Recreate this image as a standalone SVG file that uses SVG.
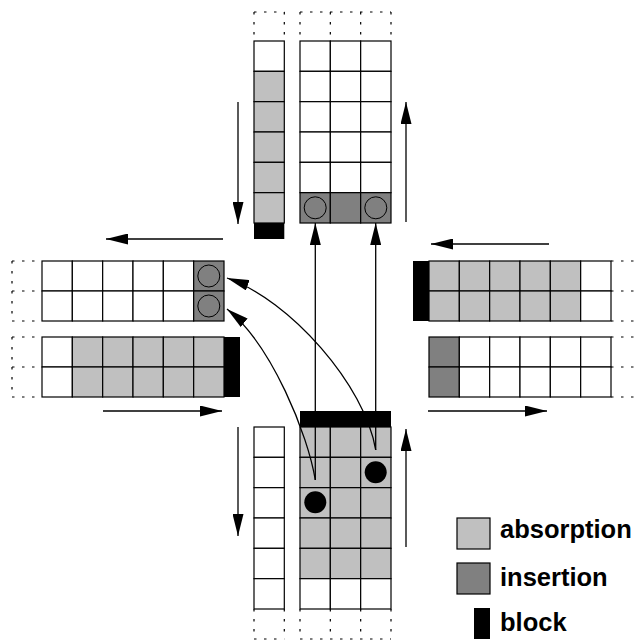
<svg xmlns="http://www.w3.org/2000/svg" width="636" height="641" viewBox="0 0 636 641">
  <style>
    .cell { stroke: #000; stroke-width: 1.2; }
    .w { fill: #fff; }
    .a { fill: #c0c0c0; }
    .i { fill: #808080; }
    .b { fill: #000; stroke: none; }
    .dot { stroke: #000; stroke-width: 1.2; stroke-dasharray: 2.5 7.5; fill: none; }
    .ring { fill: #808080; stroke: #000; stroke-width: 1; }
    .car { fill: #000; }
    .flow { stroke: #000; stroke-width: 1.3; fill: none; marker-end: url(#head); }
    .lbl { font-family: "Liberation Sans", Arial, sans-serif; font-weight: bold; font-size: 25.5px; fill: #000; }
  </style>
  <defs>
    <marker id="head" markerUnits="userSpaceOnUse" markerWidth="22" markerHeight="11" refX="22" refY="5.5" orient="auto">
      <path d="M0,0 L22,5.5 L0,11 z" fill="#000"/>
    </marker>
  </defs>

  <rect width="636" height="641" fill="#fff"/>

  <!-- north: southbound single lane -->
  <g id="north-lane-down">
    <line class="dot" x1="254" y1="12" x2="284.3" y2="12"/>
    <line class="dot" x1="254" y1="12" x2="254" y2="41"/>
    <line class="dot" x1="284.3" y1="12" x2="284.3" y2="41"/>
    <rect class="cell w" x="254" y="41" width="30.3" height="30.33"/>
    <rect class="cell a" x="254" y="71.33" width="30.3" height="30.33"/>
    <rect class="cell a" x="254" y="101.67" width="30.3" height="30.33"/>
    <rect class="cell a" x="254" y="132" width="30.3" height="30.33"/>
    <rect class="cell a" x="254" y="162.33" width="30.3" height="30.33"/>
    <rect class="cell a" x="254" y="192.67" width="30.3" height="30.33"/>
    <rect class="b" x="254" y="223" width="30.3" height="16"/>
  </g>

  <!-- north: northbound three lanes -->
  <g id="north-lanes-up">
    <line class="dot" x1="300" y1="12" x2="391" y2="12"/>
    <line class="dot" x1="300" y1="12" x2="300" y2="41"/>
    <line class="dot" x1="330.33" y1="12" x2="330.33" y2="41"/>
    <line class="dot" x1="360.67" y1="12" x2="360.67" y2="41"/>
    <line class="dot" x1="391" y1="12" x2="391" y2="41"/>
    <g class="cell w">
      <rect x="300" y="41" width="30.33" height="30.33"/><rect x="330.33" y="41" width="30.33" height="30.33"/><rect x="360.67" y="41" width="30.33" height="30.33"/>
      <rect x="300" y="71.33" width="30.33" height="30.33"/><rect x="330.33" y="71.33" width="30.33" height="30.33"/><rect x="360.67" y="71.33" width="30.33" height="30.33"/>
      <rect x="300" y="101.67" width="30.33" height="30.33"/><rect x="330.33" y="101.67" width="30.33" height="30.33"/><rect x="360.67" y="101.67" width="30.33" height="30.33"/>
      <rect x="300" y="132" width="30.33" height="30.33"/><rect x="330.33" y="132" width="30.33" height="30.33"/><rect x="360.67" y="132" width="30.33" height="30.33"/>
      <rect x="300" y="162.33" width="30.33" height="30.33"/><rect x="330.33" y="162.33" width="30.33" height="30.33"/><rect x="360.67" y="162.33" width="30.33" height="30.33"/>
    </g>
    <g class="cell i">
      <rect x="300" y="192.67" width="30.33" height="30.33"/><rect x="330.33" y="192.67" width="30.33" height="30.33"/><rect x="360.67" y="192.67" width="30.33" height="30.33"/>
    </g>
    <circle class="ring" cx="315.2" cy="207.8" r="11"/>
    <circle class="ring" cx="375.8" cy="207.8" r="11"/>
  </g>

  <!-- west: westbound two lanes -->
  <g id="west-lanes-out">
    <line class="dot" x1="12" y1="261" x2="42" y2="261"/>
    <line class="dot" x1="12" y1="291" x2="42" y2="291"/>
    <line class="dot" x1="12" y1="321" x2="42" y2="321"/>
    <line class="dot" x1="12" y1="261" x2="12" y2="321"/>
    <g class="cell w">
      <rect x="42" y="261" width="30.33" height="30"/><rect x="72.33" y="261" width="30.33" height="30"/><rect x="102.67" y="261" width="30.33" height="30"/><rect x="133" y="261" width="30.33" height="30"/><rect x="163.33" y="261" width="30.33" height="30"/>
      <rect x="42" y="291" width="30.33" height="30"/><rect x="72.33" y="291" width="30.33" height="30"/><rect x="102.67" y="291" width="30.33" height="30"/><rect x="133" y="291" width="30.33" height="30"/><rect x="163.33" y="291" width="30.33" height="30"/>
    </g>
    <g class="cell i">
      <rect x="193.67" y="261" width="30.33" height="30"/><rect x="193.67" y="291" width="30.33" height="30"/>
    </g>
    <circle class="ring" cx="208.8" cy="276" r="11"/>
    <circle class="ring" cx="208.8" cy="306" r="11"/>
  </g>

  <!-- west: eastbound two lanes -->
  <g id="west-lanes-in">
    <line class="dot" x1="12" y1="337" x2="42" y2="337"/>
    <line class="dot" x1="12" y1="367" x2="42" y2="367"/>
    <line class="dot" x1="12" y1="397" x2="42" y2="397"/>
    <line class="dot" x1="12" y1="337" x2="12" y2="397"/>
    <g class="cell w">
      <rect x="42" y="337" width="30.33" height="30"/><rect x="42" y="367" width="30.33" height="30"/>
    </g>
    <g class="cell a">
      <rect x="72.33" y="337" width="30.33" height="30"/><rect x="102.67" y="337" width="30.33" height="30"/><rect x="133" y="337" width="30.33" height="30"/><rect x="163.33" y="337" width="30.33" height="30"/><rect x="193.67" y="337" width="30.33" height="30"/>
      <rect x="72.33" y="367" width="30.33" height="30"/><rect x="102.67" y="367" width="30.33" height="30"/><rect x="133" y="367" width="30.33" height="30"/><rect x="163.33" y="367" width="30.33" height="30"/><rect x="193.67" y="367" width="30.33" height="30"/>
    </g>
    <rect class="b" x="224" y="337" width="16" height="60"/>
  </g>

  <!-- east: westbound two lanes -->
  <g id="east-lanes-in">
    <line class="dot" x1="611" y1="261" x2="636" y2="261"/>
    <line class="dot" x1="611" y1="291" x2="636" y2="291"/>
    <line class="dot" x1="611" y1="321" x2="636" y2="321"/>
    <rect class="b" x="413" y="261" width="16" height="60"/>
    <g class="cell a">
      <rect x="429" y="261" width="30.33" height="30"/><rect x="459.33" y="261" width="30.33" height="30"/><rect x="489.67" y="261" width="30.33" height="30"/><rect x="520" y="261" width="30.33" height="30"/><rect x="550.33" y="261" width="30.33" height="30"/>
      <rect x="429" y="291" width="30.33" height="30"/><rect x="459.33" y="291" width="30.33" height="30"/><rect x="489.67" y="291" width="30.33" height="30"/><rect x="520" y="291" width="30.33" height="30"/><rect x="550.33" y="291" width="30.33" height="30"/>
    </g>
    <g class="cell w">
      <rect x="580.67" y="261" width="30.33" height="30"/><rect x="580.67" y="291" width="30.33" height="30"/>
    </g>
  </g>

  <!-- east: eastbound two lanes -->
  <g id="east-lanes-out">
    <line class="dot" x1="611" y1="337" x2="636" y2="337"/>
    <line class="dot" x1="611" y1="367" x2="636" y2="367"/>
    <line class="dot" x1="611" y1="397" x2="636" y2="397"/>
    <g class="cell i">
      <rect x="429" y="337" width="30.33" height="30"/><rect x="429" y="367" width="30.33" height="30"/>
    </g>
    <g class="cell w">
      <rect x="459.33" y="337" width="30.33" height="30"/><rect x="489.67" y="337" width="30.33" height="30"/><rect x="520" y="337" width="30.33" height="30"/><rect x="550.33" y="337" width="30.33" height="30"/><rect x="580.67" y="337" width="30.33" height="30"/>
      <rect x="459.33" y="367" width="30.33" height="30"/><rect x="489.67" y="367" width="30.33" height="30"/><rect x="520" y="367" width="30.33" height="30"/><rect x="550.33" y="367" width="30.33" height="30"/><rect x="580.67" y="367" width="30.33" height="30"/>
    </g>
  </g>

  <!-- south: southbound single lane -->
  <g id="south-lane-out">
    <g class="cell w">
      <rect x="254" y="427" width="30.3" height="30.33"/>
      <rect x="254" y="457.33" width="30.3" height="30.33"/>
      <rect x="254" y="487.67" width="30.3" height="30.33"/>
      <rect x="254" y="518" width="30.3" height="30.33"/>
      <rect x="254" y="548.33" width="30.3" height="30.33"/>
      <rect x="254" y="578.67" width="30.3" height="30.33"/>
    </g>
    <line class="dot" x1="254" y1="609" x2="254" y2="639"/>
    <line class="dot" x1="284.3" y1="609" x2="284.3" y2="639"/>
    <line class="dot" x1="254" y1="639" x2="284.3" y2="639"/>
  </g>

  <!-- south: northbound three lanes -->
  <g id="south-lanes-in">
    <rect class="b" x="300" y="411" width="91" height="16"/>
    <g class="cell a">
      <rect x="300" y="427" width="30.33" height="30.33"/><rect x="330.33" y="427" width="30.33" height="30.33"/><rect x="360.67" y="427" width="30.33" height="30.33"/>
      <rect x="300" y="457.33" width="30.33" height="30.33"/><rect x="330.33" y="457.33" width="30.33" height="30.33"/><rect x="360.67" y="457.33" width="30.33" height="30.33"/>
      <rect x="300" y="487.67" width="30.33" height="30.33"/><rect x="330.33" y="487.67" width="30.33" height="30.33"/><rect x="360.67" y="487.67" width="30.33" height="30.33"/>
      <rect x="300" y="518" width="30.33" height="30.33"/><rect x="330.33" y="518" width="30.33" height="30.33"/><rect x="360.67" y="518" width="30.33" height="30.33"/>
      <rect x="300" y="548.33" width="30.33" height="30.33"/><rect x="330.33" y="548.33" width="30.33" height="30.33"/><rect x="360.67" y="548.33" width="30.33" height="30.33"/>
    </g>
    <g class="cell w">
      <rect x="300" y="578.67" width="30.33" height="30.33"/><rect x="330.33" y="578.67" width="30.33" height="30.33"/><rect x="360.67" y="578.67" width="30.33" height="30.33"/>
    </g>
    <circle class="car" cx="315.3" cy="502.3" r="11"/>
    <circle class="car" cx="375.7" cy="472.3" r="11"/>
    <line class="dot" x1="300" y1="609" x2="300" y2="639"/>
    <line class="dot" x1="330.33" y1="609" x2="330.33" y2="639"/>
    <line class="dot" x1="360.67" y1="609" x2="360.67" y2="639"/>
    <line class="dot" x1="391" y1="609" x2="391" y2="639"/>
    <line class="dot" x1="300" y1="639" x2="391" y2="639"/>
  </g>

  <!-- traffic direction arrows and vehicle moves -->
  <g id="connectors">
    <line class="flow" x1="238" y1="102" x2="238" y2="224"/>
    <line class="flow" x1="406" y1="222" x2="406" y2="102"/>
    <line class="flow" x1="223" y1="239" x2="106" y2="239"/>
    <line class="flow" x1="549" y1="244" x2="431" y2="244"/>
    <line class="flow" x1="103" y1="411" x2="222" y2="411"/>
    <line class="flow" x1="428" y1="411" x2="547" y2="411"/>
    <line class="flow" x1="238" y1="427" x2="238" y2="536"/>
    <line class="flow" x1="406" y1="547" x2="406" y2="429"/>
    <line class="flow" x1="315.3" y1="480" x2="315.3" y2="223"/>
    <line class="flow" x1="375.7" y1="450" x2="375.7" y2="223"/>
    <path class="flow" d="M375.7,450 C365,385 290,300 227,278"/>
    <path class="flow" d="M315.3,480 C308,435 272,345 227,309"/>
  </g>

  <!-- legend -->
  <g id="legend-absorption">
    <rect class="cell a" x="457" y="518" width="33" height="31"/>
    <text class="lbl" x="500" y="538">absorption</text>
  </g>
  <g id="legend-insertion">
    <rect class="cell i" x="457" y="563" width="33" height="31"/>
    <text class="lbl" x="500" y="586">insertion</text>
  </g>
  <g id="legend-block">
    <rect class="b" x="474" y="608" width="16" height="31"/>
    <text class="lbl" x="500" y="631">block</text>
  </g>
</svg>
